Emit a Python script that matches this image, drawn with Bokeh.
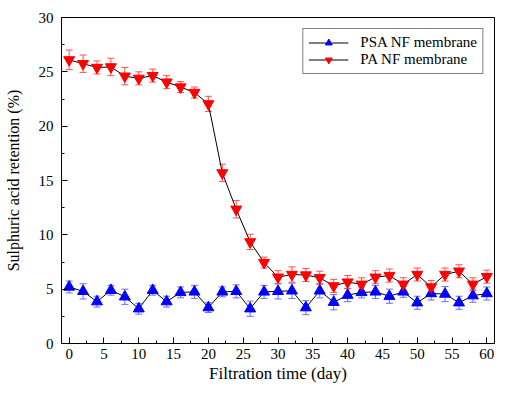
from bokeh.plotting import figure
from bokeh.models import ColumnDataSource, Whisker, TeeHead, Range1d, Legend, LegendItem, FixedTicker
from bokeh.embed import file_html
from bokeh.resources import INLINE

days = [0, 2, 4, 6, 8, 10, 12, 14, 16, 18, 20, 22, 24, 26, 28, 30,
        32, 34, 36, 38, 40, 42, 44, 46, 48, 50, 52, 54, 56, 58, 60]
psa = [5.2, 4.8, 3.85, 4.9, 4.3, 3.2, 4.9, 3.85, 4.7, 4.75, 3.3, 4.75, 4.8, 3.2, 4.75, 4.8,
       4.85, 3.3, 4.85, 3.8, 4.45, 4.7, 4.75, 4.35, 4.75, 3.75, 4.6, 4.55, 3.75, 4.4, 4.6]
psa_err = [0.55, 0.7, 0.5, 0.45, 0.7, 0.5, 0.45, 0.5, 0.5, 0.6, 0.45, 0.45, 0.6, 0.7, 0.6, 0.7,
           0.7, 0.65, 0.65, 0.7, 0.6, 0.5, 0.6, 0.65, 0.5, 0.6, 0.6, 0.7, 0.6, 0.6, 0.6]
pa = [26.1, 25.75, 25.4, 25.45, 24.6, 24.4, 24.65, 24.05, 23.6, 23.1, 22.05, 15.7, 12.35, 9.35, 7.45, 6.1,
      6.35, 6.3, 6.05, 5.3, 5.65, 5.45, 6.1, 6.25, 5.45, 6.35, 5.2, 6.35, 6.65, 5.45, 6.15]
pa_err = [0.9, 0.8, 0.6, 0.8, 0.8, 0.6, 0.6, 0.6, 0.5, 0.5, 0.7, 0.8, 0.8, 0.7, 0.5, 0.6,
          0.7, 0.6, 0.6, 0.6, 0.6, 0.6, 0.6, 0.6, 0.6, 0.6, 0.6, 0.6, 0.6, 0.6, 0.6]

x_ticks = [0, 5, 10, 15, 20, 25, 30, 35, 40, 45, 50, 55, 60]
y_ticks = [0, 5, 10, 15, 20, 25, 30]

FONT = "Liberation Serif"

src_psa = ColumnDataSource(dict(x=days, y=psa,
                                lo=[v - e for v, e in zip(psa, psa_err)],
                                hi=[v + e for v, e in zip(psa, psa_err)]))
src_pa = ColumnDataSource(dict(x=days, y=pa,
                               lo=[v - e for v, e in zip(pa, pa_err)],
                               hi=[v + e for v, e in zip(pa, pa_err)]))

p = figure(width=495, height=385, output_backend="svg", toolbar_location=None,
           x_range=Range1d(-1.1, 61.1), y_range=Range1d(0, 30),
           min_border_left=61, min_border_right=1, min_border_top=17, min_border_bottom=40)
p.grid.visible = False
p.outline_line_color = "black"
p.outline_line_width = 1
p.background_fill_color = "white"
p.border_fill_color = "white"

for ax, ticks in ((p.xaxis[0], x_ticks), (p.yaxis[0], y_ticks)):
    ax.ticker = FixedTicker(ticks=ticks,
                            minor_ticks=[t + (ticks[1] - ticks[0]) / 2 for t in ticks[:-1]])
    ax.major_tick_in = 6
    ax.major_tick_out = 0
    ax.minor_tick_in = 3
    ax.minor_tick_out = 0
    ax.axis_line_color = "black"
    ax.axis_line_width = 1
    ax.major_tick_line_color = "black"
    ax.minor_tick_line_color = "black"
    ax.major_label_text_font = FONT
    ax.major_label_text_font_size = "15px"
    ax.major_label_text_color = "black"
    ax.axis_label_text_font = FONT
    ax.axis_label_text_font_style = "normal"
    ax.axis_label_text_color = "black"

p.xaxis.axis_label = "Filtration time (day)"
p.yaxis.axis_label = "Sulphuric acid retention (%)"
p.xaxis.axis_label_text_font_size = "17px"
p.yaxis.axis_label_text_font_size = "16px"
p.xaxis.major_label_standoff = 5
p.yaxis.major_label_standoff = 8
p.xaxis.axis_label_standoff = 2
p.yaxis.axis_label_standoff = 14

# error bars
p.add_layout(Whisker(source=src_psa, base="x", lower="lo", upper="hi",
                     line_color="#6a6aff", line_width=1,
                     upper_head=TeeHead(size=7, line_color="#6a6aff"),
                     lower_head=TeeHead(size=7, line_color="#6a6aff")))
p.add_layout(Whisker(source=src_pa, base="x", lower="lo", upper="hi",
                     line_color="#ff5050", line_width=1,
                     upper_head=TeeHead(size=7, line_color="#ff5050"),
                     lower_head=TeeHead(size=7, line_color="#ff5050")))

l1 = p.line("x", "y", source=src_psa, line_color="black", line_width=1)
m1 = p.scatter("x", "y", source=src_psa, marker="triangle", size=11,
               fill_color="blue", line_color="blue")
l2 = p.line("x", "y", source=src_pa, line_color="black", line_width=1)
m2 = p.scatter("x", "y", source=src_pa, marker="inverted_triangle", size=11,
               fill_color="red", line_color="red")

legend = Legend(items=[LegendItem(label="PSA NF membrane", renderers=[l1, m1]),
                       LegendItem(label="PA NF membrane", renderers=[l2, m2])],
                location="top_right")
legend.label_text_font = FONT
legend.label_text_font_size = "15px"
legend.label_text_color = "black"
legend.border_line_color = "black"
legend.border_line_width = 1
legend.margin = 11
legend.padding = 5
legend.spacing = 0
legend.glyph_width = 40
legend.glyph_height = 17
legend.label_height = 17
legend.label_standoff = 12
p.add_layout(legend)

open("out.html", "w").write(file_html(p, INLINE))
